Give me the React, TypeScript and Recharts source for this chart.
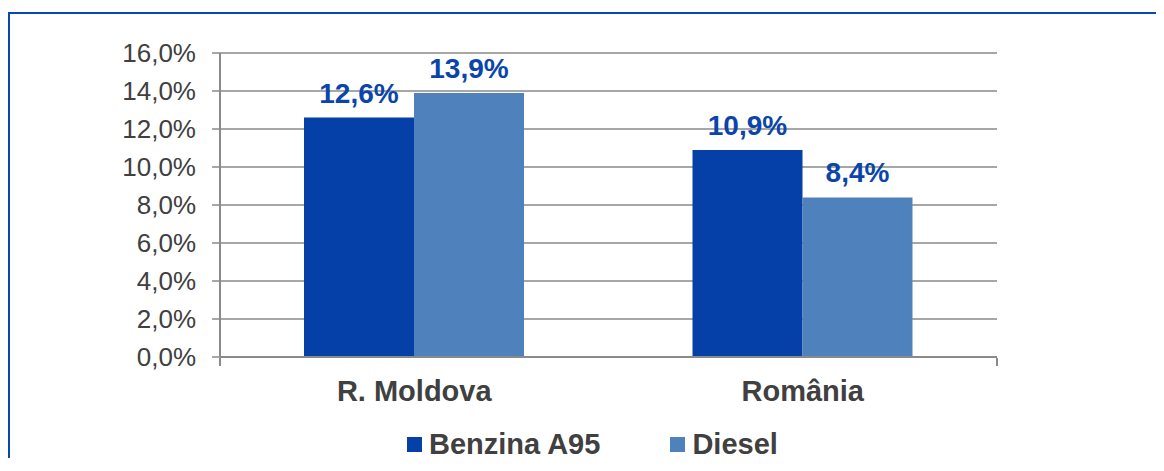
import React from 'react';
import { BarChart, Bar, XAxis, YAxis, CartesianGrid, Legend, LabelList } from 'recharts';

const categories = ['R. Moldova', 'România'];
const benzinaValues = [12.6, 10.9];
const dieselValues = [13.9, 8.4];
const yTicks = [0, 2, 4, 6, 8, 10, 12, 14, 16];
const separatorTicks = [0, 1, 2];

const data = categories.map((c, i) => ({ name: c, benzina: benzinaValues[i], diesel: dieselValues[i] }));

const FONT = '"Liberation Sans", Arial, Helvetica, sans-serif';
const BENZ = '#0540A8';
const DIES = '#4F81BD';
const TEXT = '#404040';
const GRID = '#8A8A8A';

const fmt = (v: number) => v.toFixed(1).replace('.', ',') + '%';

const LegendContent = (props: any) => {
  const payload = props.payload || [];
  return (
    <div style={{ display: 'flex', alignItems: 'center', lineHeight: '32px', height: 32, fontFamily: FONT, fontWeight: 'bold', fontSize: 29, color: TEXT, whiteSpace: 'nowrap' }}>
      {payload.map((p: any, i: number) => (
        <div key={i} style={{ display: 'flex', alignItems: 'center', marginLeft: i === 0 ? 0 : 70 }}>
          <div style={{ width: 15, height: 15, background: p.color, marginRight: 7 }} />
          <span>{p.value}</span>
        </div>
      ))}
    </div>
  );
};

const EmptyTick = () => <g />;

export default function App() {
  return (
    <div style={{ position: 'relative', top: 4, width: 1148, height: 450, borderTop: '2px solid #0A47B0', borderLeft: '2px solid #0A47B0', boxSizing: 'border-box' }}>
      <BarChart
        width={1146}
        height={448}
        data={data}
        margin={{ top: 39, right: 159, bottom: 103, left: 0 }}
        barGap={0}
        barSize={110}
      >
        <CartesianGrid xAxisId="cat" vertical={false} stroke={GRID} strokeWidth={1.5} />
        <XAxis
          xAxisId="sep"
          type="number"
          domain={[0, 2]}
          ticks={separatorTicks}
          height={1}
          axisLine={false}
          tickSize={8}
          tickLine={{ stroke: GRID, strokeWidth: 2 }}
          tick={<EmptyTick />}
        />
        <XAxis
          xAxisId="cat"
          dataKey="name"
          height={1}
          axisLine={{ stroke: GRID, strokeWidth: 2 }}
          tickLine={false}
          tickSize={8}
          tickMargin={15}
          tick={{ fill: TEXT, fontSize: 29, fontWeight: 'bold', fontFamily: FONT }}
        />
        <YAxis
          width={210}
          domain={[0, 16]}
          ticks={yTicks}
          interval={0}
          tickFormatter={fmt}
          axisLine={{ stroke: GRID, strokeWidth: 2 }}
          tickLine={{ stroke: GRID, strokeWidth: 1.5 }}
          tickSize={8}
          tickMargin={16}
          tick={{ fill: TEXT, fontSize: 26, fontFamily: FONT }}
        />
        <Legend
          verticalAlign="middle"
          align="center"
          layout="horizontal"
          content={<LegendContent />}
          wrapperStyle={{ top: 414, left: 397, width: 'auto', height: 32 }}
        />
        <Bar xAxisId="cat" dataKey="benzina" name="Benzina A95" fill={BENZ} isAnimationActive={false}>
          <LabelList dataKey="benzina" position="top" offset={15} formatter={(v: any) => fmt(Number(v))} fill="#0A45AB" fontSize={28} fontWeight="bold" fontFamily={FONT} />
        </Bar>
        <Bar xAxisId="cat" dataKey="diesel" name="Diesel" fill={DIES} isAnimationActive={false}>
          <LabelList dataKey="diesel" position="top" offset={15} formatter={(v: any) => fmt(Number(v))} fill="#0A45AB" fontSize={28} fontWeight="bold" fontFamily={FONT} />
        </Bar>
      </BarChart>
    </div>
  );
}
